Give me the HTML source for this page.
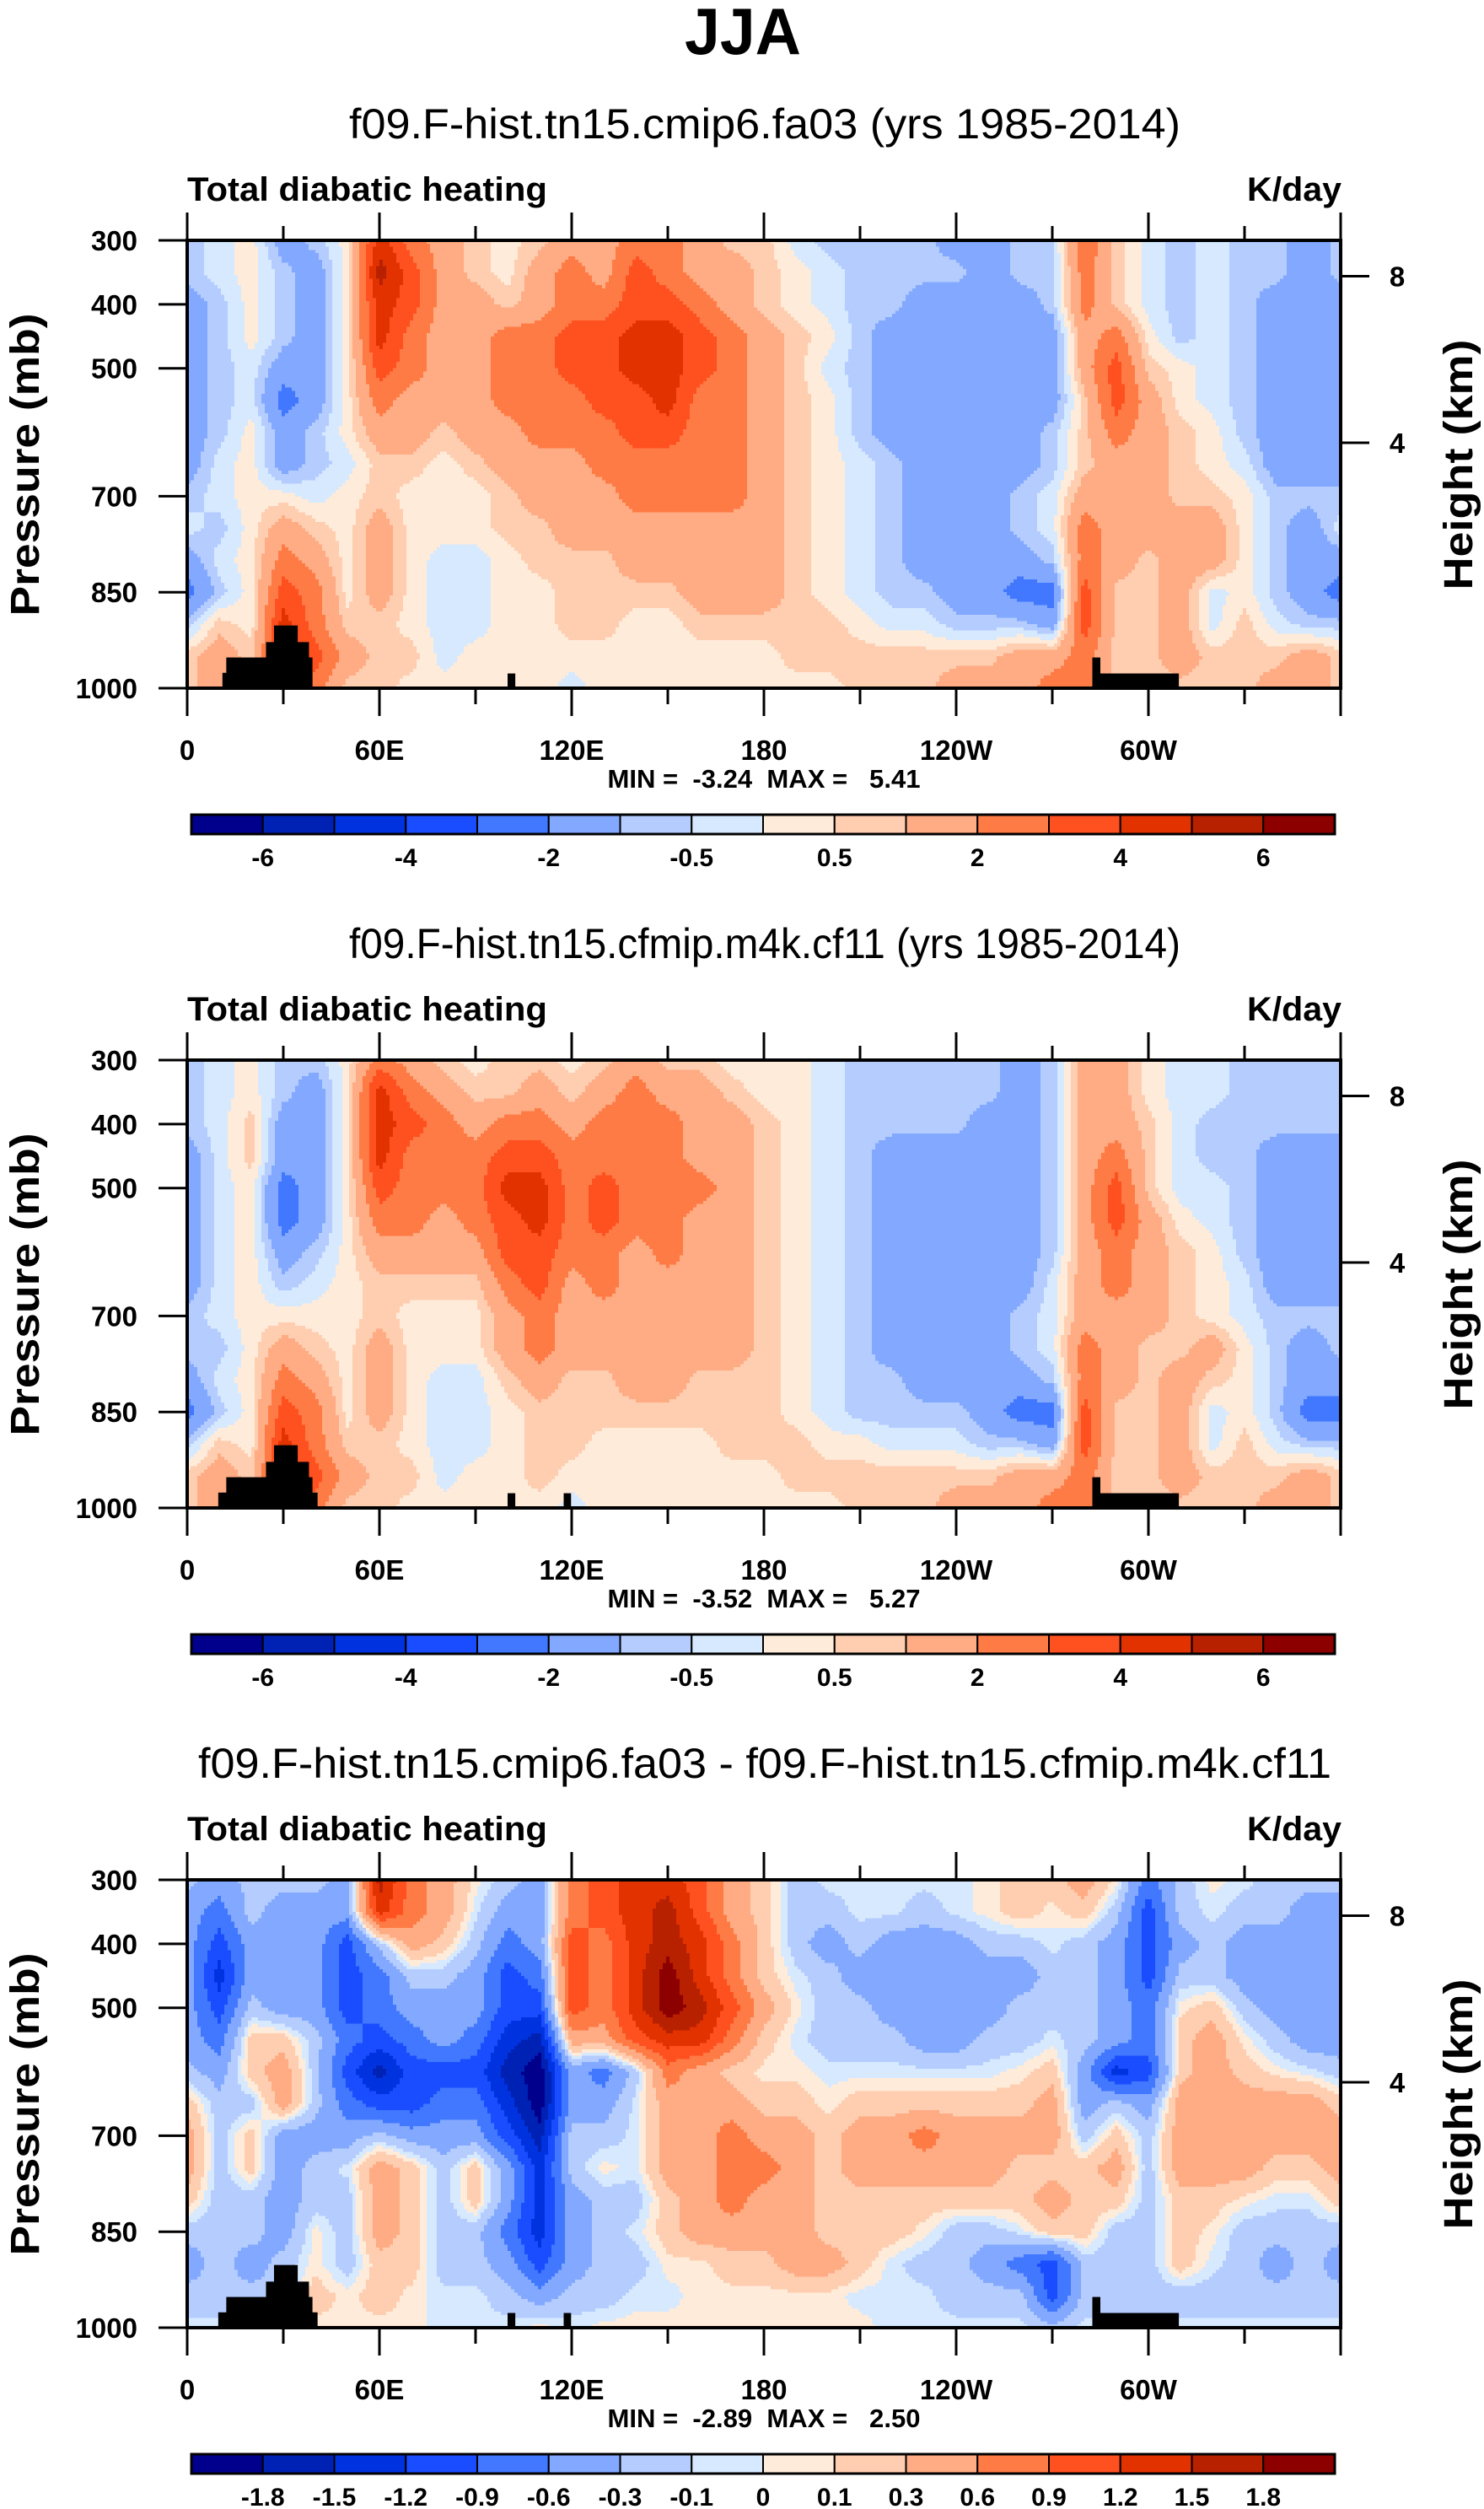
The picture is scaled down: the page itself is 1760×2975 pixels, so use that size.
<!DOCTYPE html>
<html><head><meta charset="utf-8">
<style>
html,body{margin:0;padding:0;background:#fff;}
svg{display:block;}
text{font-family:"Liberation Sans",Arial,sans-serif;fill:#000;}
.pre{white-space:pre;}
</style></head>
<body>
<svg id="fig" xmlns="http://www.w3.org/2000/svg" width="1760" height="2975" viewBox="0 0 1760 2975">
<rect width="1760" height="2975" fill="#fff"/>
<text x="881" y="64" font-size="78" font-weight="bold" text-anchor="middle" textLength="138" lengthAdjust="spacingAndGlyphs">JJA</text>
</svg>
<script>
// ---- data ----
const lons = [0,10,20,30,40,50,60,70,80,90,100,110,120,130,140,150,160,170,180,190,200,210,220,230,240,250,260,270,280,290,300,310,320,330,340,350];
const levels = [300,350,400,450,500,550,600,650,700,750,800,850,900,950,1000];
const xTickLabels = ["0","60E","120E","180","120W","60W"];
const xTickLons = [0,60,120,180,240,300];
const yTickLabels = ["300","400","500","700","850","1000"];
const yTickP = [300,400,500,700,850,1000];
const hTickLabels = ["8","4"];
const hTickKm = [8,4];
const colors = ["#00008c","#0022b4","#0033e0","#1a4dff","#4178ff","#82a8ff","#b4ccff","#d6e9ff","#ffebd9","#ffcdb0","#ffab83","#ff7b45","#ff5020","#e23200","#b82100","#8c0000"];
const levelsAbs = [-6,-5,-4,-3,-2,-1,-0.5,0,0.5,1,2,3,4,5,6];
const levelsDiff = [-1.8,-1.5,-1.2,-0.9,-0.6,-0.3,-0.1,0,0.1,0.3,0.6,0.9,1.2,1.5,1.8];
const labelsAbs = ["-6","","-4","","-2","","-0.5","","0.5","","2","","4","","6"];
const labelsDiff = ["-1.8","-1.5","-1.2","-0.9","-0.6","-0.3","-0.1","0","0.1","0.3","0.6","0.9","1.2","1.5","1.8"];
const subtitles = ["f09.F-hist.tn15.cmip6.fa03 (yrs 1985-2014)","f09.F-hist.tn15.cfmip.m4k.cf11 (yrs 1985-2014)","f09.F-hist.tn15.cmip6.fa03 - f09.F-hist.tn15.cfmip.m4k.cf11"];
const minmax = ["MIN =  -3.24  MAX =   5.41","MIN =  -3.52  MAX =   5.27","MIN =  -2.89  MAX =   2.50"];

const heatP1 = [
[-0.75,-0.25,0.25,-1.5,-0.75,0.25,4.5,2.5,1.5,0.75,0.25,0.75,1.5,1.5,2.5,2.5,1.5,0.75,0.75,-0.25,-0.75,-0.75,-0.75,-0.75,-1.5,-1.5,-0.75,-0.75,3,0.75,-0.25,-0.75,-0.25,-0.75,-0.75,-1.5],
[-0.75,-0.25,0.25,-0.75,-1.5,0.25,5.5,3.5,1.5,0.75,0.25,1.5,2.5,1.5,3.5,2.5,1.5,1.5,0.75,0.25,-0.25,-0.75,-0.75,-0.75,-0.75,-1.5,-0.75,-0.75,2.5,0.75,-0.25,-0.75,-0.25,-0.75,-0.75,-1.5],
[-1.5,-0.75,0.25,-0.75,-1.5,0.25,4.5,3.5,1.5,1.5,0.75,1.5,2.5,2.5,3.5,3.5,2.5,1.5,0.75,0.25,-0.25,-0.75,-0.75,-1.5,-1.5,-1.5,-1.5,-0.75,2.5,0.75,-0.25,-0.75,-0.25,-0.75,-1.5,-1.5],
[-1.5,-0.75,0.25,-0.75,-1.5,0.25,4.5,2.5,1.5,1.5,2.5,2.5,3.5,3.5,4.5,4.5,3.5,2.5,1.5,0.75,0.25,-0.75,-1.5,-1.5,-1.5,-1.5,-1.5,-1.5,1.5,2.5,0.25,-0.75,-0.25,-0.75,-1.5,-1.5],
[-1.5,-0.75,-0.25,-1.5,-1.5,0.25,3.5,2.5,1.5,1.5,2.5,2.5,3.5,3.5,4.5,4.5,3.5,2.5,1.5,0.75,-0.25,-0.75,-1.5,-1.5,-1.5,-1.5,-1.5,-1.5,1.5,3.5,0.75,0.25,-0.25,-0.75,-1.5,-1.5],
[-1.5,-0.75,-0.25,-2.5,-1.5,0.25,2.5,1.5,1.5,1.5,2.5,2.5,2.5,3.5,3.5,4.5,2.5,2.5,1.5,0.75,0.25,-0.75,-1.5,-1.5,-1.5,-1.5,-1.5,-1.5,0.75,3.5,1.5,0.25,-0.25,-0.75,-1.5,-1.5],
[-1.5,-0.75,0.25,-1.5,-0.75,0.25,1.5,1.5,0.75,1.5,1.5,2.5,2.5,2.5,3.5,3.5,2.5,2.5,1.5,0.75,0.25,-0.75,-1.5,-1.5,-1.5,-1.5,-1.5,-0.75,0.75,2.5,1.5,0.75,0.25,-0.75,-1.5,-1.5],
[-1.5,-0.25,0.25,-1.5,-0.75,-0.25,0.75,0.75,0.25,0.75,1.5,1.5,1.5,2.5,2.5,2.5,2.5,2.5,1.5,0.75,0.25,-0.25,-0.75,-1.5,-1.5,-1.5,-1.5,-0.75,0.75,1.5,1.5,0.75,0.25,-0.25,-1.5,-1.5],
[-0.75,-0.25,0.25,0.25,-0.25,0.25,0.75,0.25,0.25,0.25,0.75,1.5,1.5,1.5,2.5,2.5,2.5,2.5,1.5,0.75,0.25,-0.25,-0.75,-1.5,-1.5,-1.5,-0.75,-0.25,1.5,1.5,1.5,0.75,0.75,0.25,-0.75,-0.75],
[-0.25,-0.75,0.25,1.5,0.75,0.25,1.5,0.25,0.25,0.25,0.75,0.75,1.5,1.5,1.5,1.5,1.5,1.5,1.5,0.75,0.25,-0.25,-0.75,-1.5,-1.5,-1.5,-0.75,-0.25,2.5,1.5,1.5,1.5,1.5,0.25,-0.75,-1.5],
[-1.5,-0.25,0.25,2.5,1.5,0.25,1.5,0.25,-0.25,-0.25,0.25,0.75,0.75,0.75,1.5,1.5,1.5,1.5,1.5,0.75,0.25,-0.25,-0.75,-1.5,-1.5,-1.5,-1.5,-0.75,2.5,1.5,0.75,1.5,1.5,0.25,-0.75,-1.5],
[-2.5,-0.75,0.25,3.5,2.5,0.25,1.5,0.25,-0.25,-0.25,0.25,0.25,0.75,0.75,0.75,0.75,1.5,1.5,1.5,0.75,0.25,-0.25,-0.75,-0.75,-1.5,-1.5,-2.5,-2.5,3.5,0.75,0.75,1.5,-0.25,0.25,-0.75,-1.5],
[-0.75,0.75,0.25,4.5,2.5,0.75,0.75,0.25,-0.25,-0.25,0.25,0.25,0.75,0.75,0.25,0.25,0.75,0.75,0.75,0.75,0.75,0.25,-0.25,-0.25,-0.75,-0.75,-0.75,-1.5,3.5,0.75,0.75,1.5,-0.25,0.75,-0.25,-0.75],
[0.75,1.5,0.75,4.5,3.5,1.5,0.75,0.75,-0.25,0.25,0.25,0.25,0.25,0.25,0.25,0.25,0.25,0.25,0.25,0.75,0.75,0.75,0.75,0.75,0.75,0.75,1.5,1.5,2.5,0.75,0.75,1.5,0.75,0.75,0.75,1.5],
[0.75,1.5,0.75,2.5,2.5,0.75,0.75,0.25,0.25,0.25,0.25,0.25,-0.25,0.25,0.25,0.25,0.25,0.25,0.25,0.25,0.25,0.75,0.75,0.75,1.5,1.5,1.5,2.5,2.5,0.75,0.75,0.75,0.75,0.75,1.5,1.5]
];
const heatP2 = [
[-0.75,-0.25,0.25,-0.75,-0.75,0.25,2.5,1.5,0.75,0.25,0.75,0.75,0.25,0.75,1.5,0.75,0.75,0.25,0.25,0.25,-0.25,-0.75,-0.75,-0.75,-0.75,-0.75,-1.5,-0.75,1.5,1.5,0.25,-0.25,-0.25,-0.75,-0.75,-0.75],
[-0.75,-0.25,0.25,-0.75,-1.5,0.25,4.5,2.5,1.5,0.75,0.75,1.5,0.75,1.5,2.5,1.5,1.5,0.75,0.25,0.25,-0.25,-0.75,-0.75,-0.75,-0.75,-0.75,-1.5,-0.75,1.5,1.5,0.25,-0.25,-0.25,-0.75,-0.75,-0.75],
[-0.75,-0.25,0.75,-1.5,-1.5,0.25,4.5,3.5,2.5,1.5,2.5,2.5,1.5,2.5,2.5,2.5,1.5,1.5,0.75,0.25,-0.25,-0.75,-0.75,-0.75,-0.75,-1.5,-1.5,-0.75,1.5,1.5,0.75,-0.25,-0.75,-0.75,-0.75,-0.75],
[-1.5,-0.25,0.75,-1.5,-1.5,0.25,4.5,2.5,2.5,2.5,3.5,3.5,2.5,2.5,2.5,2.5,1.5,1.5,0.75,0.25,-0.25,-0.75,-1.5,-1.5,-1.5,-1.5,-1.5,-0.75,1.5,2.5,0.75,-0.25,-0.75,-0.75,-1.5,-1.5],
[-1.5,-0.25,0.25,-2.5,-1.5,0.25,3.5,2.5,2.5,2.5,4.5,4.5,2.5,3.5,2.5,2.5,2.5,1.5,0.75,0.25,-0.25,-0.75,-1.5,-1.5,-1.5,-1.5,-1.5,-0.75,1.5,3.5,0.75,-0.25,-0.25,-0.75,-1.5,-1.5],
[-1.5,-0.25,0.25,-2.5,-1.5,0.25,2.5,2.5,1.5,2.5,3.5,4.5,2.5,3.5,2.5,2.5,1.5,1.5,0.75,0.25,-0.25,-0.75,-1.5,-1.5,-1.5,-1.5,-1.5,-0.75,1.5,3.5,1.5,0.25,-0.25,-0.75,-1.5,-1.5],
[-1.5,-0.25,0.25,-1.5,-0.75,0.25,1.5,1.5,1.5,1.5,3.5,3.5,2.5,2.5,1.5,2.5,1.5,1.5,0.75,0.25,-0.25,-0.75,-1.5,-1.5,-1.5,-1.5,-1.5,-0.75,1.5,2.5,1.5,0.75,0.25,-0.75,-1.5,-1.5],
[-1.5,-0.25,0.25,-0.75,-0.25,0.25,0.75,0.75,0.75,0.75,2.5,3.5,1.5,2.5,1.5,1.5,1.5,1.5,0.75,0.25,-0.25,-0.75,-1.5,-1.5,-1.5,-1.5,-1.5,-0.25,1.5,2.5,1.5,0.75,0.25,-0.25,-1.5,-1.5],
[-0.75,-0.25,0.25,0.25,0.25,0.25,0.75,0.25,0.25,0.25,1.5,2.5,1.5,1.5,1.5,1.5,1.5,1.5,0.75,0.25,-0.25,-0.75,-1.5,-1.5,-1.5,-1.5,-0.75,-0.25,1.5,1.5,1.5,0.75,0.25,-0.25,-0.75,-0.75],
[-0.75,-0.75,0.25,1.5,0.75,0.25,1.5,0.25,0.25,0.25,1.5,2.5,1.5,1.5,1.5,1.5,1.5,1.5,0.75,0.25,-0.25,-0.75,-1.5,-1.5,-1.5,-1.5,-0.75,-0.25,2.5,1.5,0.75,0.75,1.5,0.25,-0.75,-1.5],
[-1.5,-0.25,0.25,2.5,1.5,0.25,1.5,0.25,-0.25,-0.25,0.75,1.5,0.75,0.75,1.5,1.5,0.75,0.75,0.75,0.25,-0.25,-0.75,-0.75,-1.5,-1.5,-1.5,-1.5,-0.75,2.5,1.5,0.75,1.5,0.75,0.25,-0.75,-1.5],
[-2.5,-0.75,0.25,3.5,2.5,0.25,1.5,0.25,-0.25,-0.25,0.25,0.75,0.75,0.75,0.75,0.75,0.75,0.75,0.75,0.25,-0.25,-0.75,-0.75,-0.75,-0.75,-1.5,-2.5,-2.5,3.5,0.75,0.75,1.5,-0.25,0.25,-0.75,-2.5],
[-0.75,0.75,0.25,4.5,2.5,0.75,0.75,0.25,-0.25,-0.25,0.25,0.75,0.75,0.25,0.25,0.25,0.25,0.75,0.75,0.75,0.25,0.25,-0.25,-0.25,-0.25,-0.75,-0.75,-1.5,3.5,0.75,0.75,1.5,-0.25,0.75,-0.25,-0.75],
[0.75,1.5,0.75,4.5,3.5,1.5,0.75,0.75,-0.25,0.25,0.25,0.75,0.25,0.25,0.25,0.25,0.25,0.25,0.25,0.75,0.75,0.75,0.75,0.75,0.75,0.75,1.5,1.5,2.5,0.75,0.75,1.5,0.75,0.75,0.75,1.5],
[0.75,1.5,0.75,2.5,2.5,0.75,0.75,0.25,0.25,0.25,0.25,0.25,-0.25,0.25,0.25,0.25,0.25,0.25,0.25,0.25,0.25,0.75,0.75,0.75,1.5,1.5,1.5,2.5,2.5,0.75,0.75,0.75,0.75,0.75,1.5,1.5]
];
const heatP3 = [
[-0.2,-0.45,-0.2,-0.2,-0.2,-0.45,1.65,0.75,0.45,0.05,-0.2,-0.45,0.75,1.05,1.35,1.35,1.05,0.45,0.2,-0.2,-0.05,-0.05,-0.05,-0.05,-0.05,0.05,0.2,0.2,0.45,0.05,-0.75,-0.2,0.05,-0.05,-0.2,-0.2],
[-0.45,-0.75,-0.2,-0.45,-0.45,-0.45,1.35,0.75,0.45,-0.05,-0.45,-0.45,0.75,1.05,1.35,1.65,1.05,0.45,0.2,-0.2,-0.2,-0.05,-0.05,-0.2,-0.05,0.05,0.2,0.05,0.2,-0.2,-1.05,-0.2,-0.05,-0.2,-0.2,-0.45],
[-0.45,-1.05,-0.45,-0.45,-0.45,-1.05,-0.2,0.45,0.2,-0.2,-0.75,-0.45,1.05,0.75,1.35,1.65,1.35,0.75,0.2,-0.2,-0.45,-0.2,-0.45,-0.45,-0.45,-0.2,-0.2,-0.05,-0.2,-0.45,-1.05,-0.45,-0.2,-0.45,-0.45,-0.45],
[-0.45,-1.35,-0.45,-0.45,-0.45,-1.05,-0.75,-0.2,-0.2,-0.45,-1.05,-0.75,1.05,0.75,1.35,2,1.35,0.75,0.2,-0.05,-0.2,-0.45,-0.45,-0.45,-0.45,-0.45,-0.45,-0.2,-0.2,-0.45,-1.05,-0.2,-0.2,-0.45,-0.45,-0.45],
[-0.45,-1.05,-0.2,-0.45,-0.45,-1.05,-0.75,-0.45,-0.45,-0.45,-1.05,-1.05,1.05,0.75,1.35,2,1.65,1.05,0.45,0.05,-0.2,-0.2,-0.45,-0.45,-0.45,-0.45,-0.2,-0.2,-0.2,-0.45,-0.75,0.05,0.2,-0.2,-0.45,-0.45],
[-0.45,-0.75,0.2,0.2,-0.2,-0.75,-1.05,-0.75,-0.45,-0.75,-1.35,-1.65,0.45,0.45,1.05,1.35,1.35,0.75,0.2,-0.05,-0.2,-0.2,-0.2,-0.45,-0.45,-0.2,-0.2,-0.05,-0.2,-0.45,-0.75,0.2,0.45,0.05,-0.2,-0.45],
[-0.2,-0.45,0.2,0.45,-0.2,-1.05,-1.65,-1.05,-1.05,-1.05,-1.65,-2,-0.45,-0.75,-0.2,0.75,0.45,0.2,0.05,0.05,-0.05,-0.05,-0.05,-0.05,-0.05,-0.05,0.05,0.2,-0.45,-1.35,-1.05,0.2,0.45,0.2,0.05,-0.05],
[0.2,-0.2,-0.2,0.45,-0.2,-0.75,-1.05,-1.05,-0.75,-0.75,-1.35,-2,-0.45,-0.45,-0.05,0.45,0.45,0.45,0.2,0.2,0.05,0.2,0.2,0.2,0.2,0.2,0.2,0.45,-0.45,-0.2,-0.45,0.45,0.45,0.45,0.45,0.45],
[0.45,-0.2,0.2,-0.45,-0.45,-0.45,-0.2,-0.45,-0.45,-0.45,-1.05,-1.65,-0.2,-0.2,-0.05,0.45,0.45,0.75,0.45,0.45,0.2,0.45,0.45,0.75,0.45,0.45,0.45,0.45,-0.2,0.2,-0.2,0.45,0.45,0.45,0.45,0.45],
[0.45,-0.2,0.2,-0.45,-0.2,-0.05,0.45,0.2,-0.2,0.2,-0.45,-1.35,-0.2,0.05,-0.05,0.45,0.45,0.75,0.75,0.45,0.2,0.45,0.45,0.45,0.45,0.45,0.2,0.2,0.2,0.45,-0.2,0.45,0.45,0.45,0.2,0.2],
[0.2,-0.2,-0.2,-0.45,-0.2,-0.2,0.45,0.2,-0.2,0.2,-0.45,-1.35,-0.45,-0.2,-0.2,0.2,0.45,0.75,0.45,0.45,0.2,0.2,0.2,0.2,0.2,0.2,0.2,0.45,0.2,0.2,-0.2,0.2,0.2,0.05,-0.05,-0.05],
[-0.2,-0.2,-0.2,-0.45,0.05,-0.2,0.45,0.2,-0.2,-0.2,-0.75,-1.35,-0.45,-0.2,-0.05,0.2,0.45,0.45,0.45,0.45,0.2,0.2,0.2,0.05,-0.2,-0.2,-0.05,0.2,0.2,-0.2,-0.2,0.2,0.05,-0.2,-0.2,-0.2],
[-0.45,-0.2,-0.45,-0.2,0.05,-0.2,0.2,0.2,-0.2,-0.2,-0.45,-1.05,-0.45,-0.2,-0.2,0.05,0.05,0.2,0.2,0.45,0.45,0.2,-0.05,-0.2,-0.2,-0.45,-0.75,-1.05,-0.2,-0.2,-0.2,0.2,-0.05,-0.2,-0.45,-0.2],
[-0.2,-0.2,-0.2,-0.2,0.2,0.05,0.2,0.05,-0.05,-0.05,-0.2,-0.45,-0.2,-0.2,-0.05,-0.05,0.05,0.05,0.05,0.05,0.05,-0.05,-0.05,-0.05,-0.2,-0.2,-0.2,-1.05,-0.2,-0.2,-0.2,-0.2,-0.2,-0.2,-0.2,-0.2],
[-0.05,-0.05,-0.05,-0.05,0.05,0.05,0.05,0.05,-0.05,-0.05,-0.05,0.05,-0.05,0.05,0.05,0.05,0.05,0.05,0.05,0.05,0.05,0.05,-0.05,-0.05,-0.05,-0.05,-0.05,-0.2,-0.05,-0.05,-0.05,-0.05,-0.05,-0.05,-0.05,-0.05]
];
// land/topography blocks: [lonStart, lonEnd, topPressure]
const landP1 = [[11,39.1,976],[12.2,39.1,952],[24.6,38,928],[27.1,34.5,902],[100,102.4,977],[282.5,285,952],[282.5,309.5,977]];
const landP23 = [[9.7,40.7,976],[12.2,39.1,952],[24.6,38,928],[27.1,34.5,902],[100,102.4,977],[117.5,119.8,977],[282.5,285,952],[282.5,309.5,977]];

// ---- drawing ----
const NS = "http://www.w3.org/2000/svg";
const svg = document.getElementById("fig");
const X0 = 222, PW = 1368, PH = 531, PANEL_Y0 = 285, PANEL_STEP = 972;
function mk(tag, attrs, parent){ const e=document.createElementNS(NS,tag); for(const k in attrs) e.setAttribute(k,attrs[k]); (parent||svg).appendChild(e); return e; }
function xOf(lon){ return X0 + lon/360*PW; }
function yOf(p, top){ return top + (p-300)/700*PH; }
function pOfKm(z){ return 1013.25*Math.pow(1-2.25577e-5*z*1000,5.25588); }
function sample(data, lon, p){
  const fi = lon/10, i0 = Math.floor(fi)%36, i1=(i0+1)%36, t = fi-Math.floor(fi);
  let fj = (p-300)/50; let j0 = Math.min(Math.floor(fj), levels.length-2); const s = fj-j0;
  const a = data[j0][i0]*(1-t)+data[j0][i1]*t;
  const b = data[j0+1][i0]*(1-t)+data[j0+1][i1]*t;
  return a*(1-s)+b*s;
}
function colorIdx(v, lv){ let k=0; while(k<lv.length && v>=lv[k]) k++; return k; }

function drawPanel(n, data, lv, land, cbLabels){
  const top = PANEL_Y0 + n*PANEL_STEP;
  const g = mk("g",{});
  
  
  const st = mk("text",{x:907,y:top-121,"font-size":50,"text-anchor":"middle",textLength:(n==2?1344:986),lengthAdjust:"spacingAndGlyphs"},g);
  st.textContent = subtitles[n];
  
  
  const lt = mk("text",{x:222,y:top-47,"font-size":40,"font-weight":"bold",textLength:427,lengthAdjust:"spacingAndGlyphs"},g);
  lt.textContent = "Total diabatic heating";
  
  
  const ut = mk("text",{x:1591,y:top-47,"font-size":40,"font-weight":"bold","text-anchor":"end",textLength:112,lengthAdjust:"spacingAndGlyphs"},g);
  ut.textContent = "K/day";
  
  
  // heatmap
  const hm = mk("g",{"shape-rendering":"crispEdges"},g);
  
  
  const NX=342, NY=140, dx=PW/NX, dy=PH/NY;
  for(let j=0;j<NY;j++){
    const p = 300 + (j+0.5)*700/NY;
    let runStart=0, runC=-1;
    for(let i=0;i<=NX;i++){
      let c=-2;
      if(i<NX){ const lon=(i+0.5)*360/NX; c=colorIdx(sample(data,lon,p),lv); }
      if(c!==runC){
        if(runC>=0){
          const r = mk("rect",{x:(X0+runStart*dx).toFixed(2),y:(top+j*dy).toFixed(2),width:((i-runStart)*dx+0.6).toFixed(2),height:(dy+0.6).toFixed(2),fill:colors[runC]},hm);
          
          
        }
        runStart=i; runC=c;
      }
    }
  }
  // land
  land.forEach(b=>{
    const r = mk("rect",{x:xOf(b[0]),y:yOf(b[2],top),width:xOf(b[1])-xOf(b[0]),height:yOf(1000,top)-yOf(b[2],top),fill:"#000"},g);
    
    
  });
  // frame
  const fr = mk("rect",{x:X0,y:top,width:PW,height:PH,fill:"none",stroke:"#000","stroke-width":4},g);
  
  
  // x ticks
  for(let lon=0;lon<=360;lon+=30){
    const major = lon%60===0, x=xOf(lon);
    const tb = mk("line",{x1:x,y1:top+PH,x2:x,y2:top+PH+(major?33:19),stroke:"#000","stroke-width":3},g);
    
    
    const tt = mk("line",{x1:x,y1:top,x2:x,y2:top-(major?33:17),stroke:"#000","stroke-width":3},g);
    
    
  }
  xTickLabels.forEach((lab,k)=>{
    const t = mk("text",{x:xOf(xTickLons[k]),y:top+PH+85,"font-size":33,"font-weight":"bold","text-anchor":"middle"},g);
    t.textContent = lab;
    
    
  });
  // y ticks
  yTickLabels.forEach((lab,k)=>{
    const y=yOf(yTickP[k],top);
    const l = mk("line",{x1:188,y1:y,x2:X0,y2:y,stroke:"#000","stroke-width":3},g);
    
    
    const t = mk("text",{x:163,y:y+12,"font-size":33,"font-weight":"bold","text-anchor":"end"},g);
    t.textContent = lab;
    
    
  });
  hTickLabels.forEach((lab,k)=>{
    const y=yOf(pOfKm(hTickKm[k]),top);
    const l = mk("line",{x1:X0+PW,y1:y,x2:1624,y2:y,stroke:"#000","stroke-width":3},g);
    
    
    const t = mk("text",{x:1657,y:y+12,"font-size":33,"font-weight":"bold","text-anchor":"middle"},g);
    t.textContent = lab;
    
    
  });
  const ya = mk("text",{transform:"translate(46,"+(top+266)+") rotate(-90)","font-size":48,"font-weight":"bold","text-anchor":"middle",textLength:359,lengthAdjust:"spacingAndGlyphs"},g);
  ya.textContent = "Pressure (mb)";
  
  
  const ha = mk("text",{transform:"translate(1746,"+(top+266)+") rotate(-90)","font-size":48,"font-weight":"bold","text-anchor":"middle",textLength:297,lengthAdjust:"spacingAndGlyphs"},g);
  ha.textContent = "Height (km)";
  
  
  const mm = mk("text",{x:906,y:top+649,"font-size":31,"font-weight":"bold","text-anchor":"middle",textLength:371,lengthAdjust:"spacingAndGlyphs","class":"pre"},g);
  mm.textContent = minmax[n];
  
  
  // colorbar
  const cbY = top+681, cbX0=227, cbW=(1583-227)/16;
  const cb = mk("g",{},g);
  
  
  colors.forEach((c,k)=>{
    const r = mk("rect",{x:cbX0+k*cbW,y:cbY,width:cbW,height:23,fill:c,stroke:"#000","stroke-width":2},cb);
    
    
  });
  const cbf = mk("rect",{x:cbX0,y:cbY,width:1583-227,height:23,fill:"none",stroke:"#000","stroke-width":3},cb);
  
  
  cbLabels.forEach((lab,k)=>{
    if(!lab) return;
    const t = mk("text",{x:cbX0+(k+1)*cbW,y:cbY+61,"font-size":30,"font-weight":"bold","text-anchor":"middle"},cb);
    t.textContent = lab;
    
    
  });
}
drawPanel(0, heatP1, levelsAbs, landP1, labelsAbs);
drawPanel(1, heatP2, levelsAbs, landP23, labelsAbs);
drawPanel(2, heatP3, levelsDiff, landP23, labelsDiff);
</script>
</body></html>
